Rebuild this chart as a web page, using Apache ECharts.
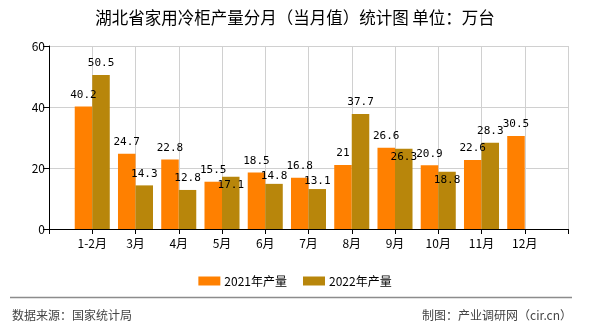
<!DOCTYPE html>
<html><head><meta charset="utf-8">
<script src="https://cdn.jsdelivr.net/npm/echarts@6/dist/echarts.min.js"></script>
<style>html,body{margin:0;padding:0;background:#fff}#c{width:590px;height:330px}</style>
</head><body><div id="c"></div>
<script>
const titleText = '湖北省家用冷柜产量分月（当月值）统计图 单位：万台';
const months = ['1-2月','3月','4月','5月','6月','7月','8月','9月','10月','11月','12月'];
const output2021 = [40.2,24.7,22.8,15.5,18.5,16.8,21,26.6,20.9,22.6,30.5];
const output2022 = [50.5,14.3,12.8,17.1,14.8,13.1,37.7,26.3,18.8,28.3,null];
const seriesNames = ['2021年产量','2022年产量'];
const yMin = 0, yMax = 60, yInterval = 20;
const sourceText = '数据来源：国家统计局';
const creditText = '制图：产业调研网（cir.cn）';

const categories = [''].concat(months, ['']);
const pad = arr => ['-'].concat(arr.map(v => v == null ? '-' : v), ['-']);
const cjk = '"Noto Sans CJK SC", "Noto Sans", sans-serif';
const mono = '"DejaVu Sans Mono", monospace';

const chart = echarts.init(document.getElementById('c'), null, {renderer: 'canvas'});

const labelStyle = {show: true, position: 'top', distance: 6, color: '#000', fontFamily: mono, fontSize: 11};

chart.setOption({
  animation: false,
  backgroundColor: '#fff',
  title: {
    text: titleText, left: 'center', top: 4,
    textStyle: {fontFamily: cjk, fontSize: 16.5, fontWeight: 'normal', color: '#000'}
  },
  legend: {
    top: 270, left: 'center', itemWidth: 22, itemHeight: 9, itemGap: 16,
    icon: 'rect',
    textStyle: {fontFamily: cjk, fontSize: 12, color: '#000', padding: [0,0,0,-1]},
    data: seriesNames
  },
  grid: {left: 49, right: 22, top: 46, bottom: 101},
  xAxis: {
    type: 'category', data: categories, boundaryGap: false,
    axisLine: {lineStyle: {color: '#000', width: 1}},
    axisTick: {show: true, interval: 0, length: 5, lineStyle: {color: '#000'}},
    axisLabel: {interval: 0, margin: 8, color: '#000', fontFamily: cjk, fontSize: 12},
    splitLine: {show: true, interval: 0, lineStyle: {color: '#d0d0d0', width: 1}}
  },
  yAxis: {
    type: 'value', min: yMin, max: yMax, interval: yInterval,
    axisLine: {show: true, lineStyle: {color: '#000', width: 1}},
    axisTick: {show: true, length: 6, lineStyle: {color: '#000'}},
    axisLabel: {margin: 4, color: '#000', fontFamily: cjk, fontSize: 12},
    splitLine: {show: true, lineStyle: {color: '#d0d0d0', width: 1}}
  },
  series: [
    {
      name: seriesNames[0], type: 'bar', data: pad(output2021),
      barGap: '0%', barCategoryGap: '19%',
      itemStyle: {color: '#FF8000'},
      label: labelStyle
    },
    {
      name: seriesNames[1], type: 'bar', data: pad(output2022),
      barGap: '0%', barCategoryGap: '19%',
      itemStyle: {color: '#B8860B'},
      label: labelStyle,
      labelLayout: function (p) {
        const i = p.dataIndex - 1;
        const v = output2022[i], o = output2021[i];
        if (v == null || o == null || !p.rect) return {};
        const r = p.rect;
        const top = Math.min(r.y, r.y + r.height);
        const base = Math.max(r.y, r.y + r.height);
        const k = (base - top) / v;
        const otherTop = base - o * k;
        const h = p.labelRect.height;
        const myC = p.labelRect.y + h / 2;
        const otherC = myC - (top - otherTop);
        const gap = myC - otherC;
        if (gap >= 13 || gap <= -13) return {};
        if (gap >= 8) return {dy: otherC + 15 - myC};
        return {dy: (top + 8) - myC};
      }
    }
  ],
  graphic: [
    {type: 'line', shape: {x1: 10, y1: 297.5, x2: 572, y2: 297.5}, style: {stroke: '#8c8c8c', lineWidth: 1.5}},
    {type: 'text', left: 12, top: 309, style: {text: sourceText, font: '12px ' + cjk, fill: '#444'}},
    {type: 'text', right: 18, top: 309, style: {text: creditText, font: '12px ' + cjk, fill: '#444'}}
  ]
});
</script>
</body></html>
